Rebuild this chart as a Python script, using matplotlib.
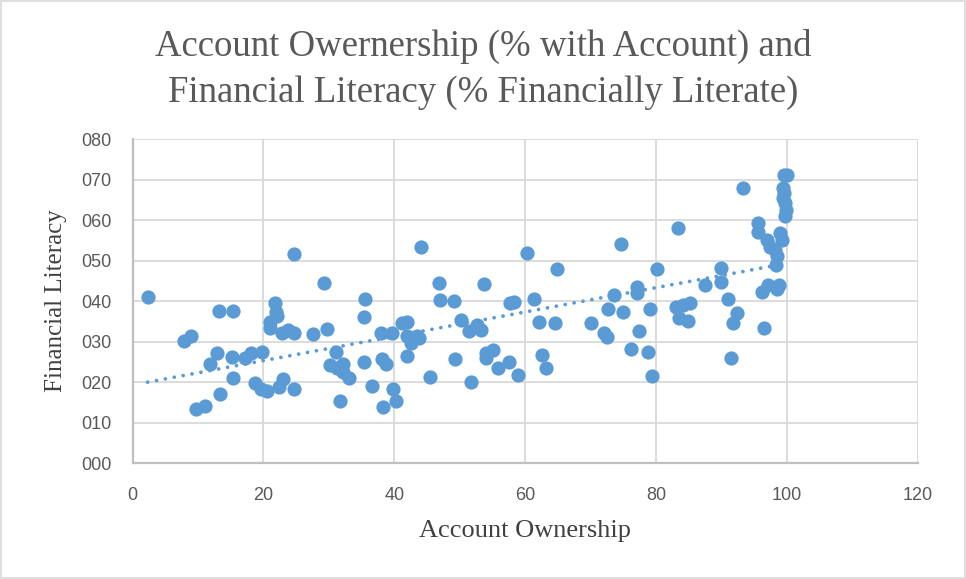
import numpy as np
import matplotlib.pyplot as plt
from matplotlib.patches import Rectangle

# Account ownership (% with account) per country
account = [2.3, 7.9, 9.0, 9.7, 11.0, 11.8, 12.9, 13.2, 13.3, 15.2,
           15.3, 15.3, 17.2, 18.1, 18.7, 19.6, 19.8, 20.5, 21.0, 21.0,
           21.8, 21.9, 22.0, 22.4, 22.8, 23.0, 23.8, 24.7, 24.7, 24.7,
           27.6, 29.3, 29.7, 30.2, 31.1, 31.2, 31.7, 32.2, 32.2, 33.1,
           35.3, 35.3, 35.5, 36.6, 38.0, 38.1, 38.3, 38.7, 39.7, 39.8,
           40.3, 41.1, 41.9, 42.0, 42.0, 42.5, 43.4, 43.7, 44.1, 45.5,
           46.8, 46.9, 49.1, 49.2, 50.2, 51.4, 51.7, 52.7, 53.2, 53.7,
           54.0, 54.0, 55.1, 55.9, 57.5, 57.6, 58.3, 58.9, 60.3, 61.3,
           62.1, 62.5, 63.1, 64.5, 64.9, 70.0, 72.0, 72.5, 72.7, 73.6,
           74.7, 75.0, 76.1, 77.0, 77.1, 77.4, 78.8, 79.1, 79.4, 80.1,
           83.1, 83.4, 83.5, 84.1, 84.9, 85.2, 87.5, 89.9, 89.9, 91.0,
           91.5, 91.7, 92.4, 93.2, 95.6, 95.6, 96.2, 96.4, 97.0, 97.1,
           97.4, 98.2, 98.3, 98.4, 98.4, 98.8, 98.9, 99.2, 99.4, 99.6,
           99.4, 99.7, 99.8, 99.7, 99.6, 100.0]
# Financial literacy (% financially literate)
literacy = [40.9, 30.2, 31.4, 13.3, 14.2, 24.4, 27.1, 37.6, 17.0, 26.1,
            37.6, 21.1, 26.0, 27.2, 19.8, 18.2, 27.4, 17.9, 34.9, 33.3,
            39.4, 37.4, 36.4, 18.8, 32.0, 20.8, 32.8, 51.5, 32.0, 18.3,
            31.9, 44.4, 33.2, 24.3, 27.4, 23.4, 15.4, 24.5, 22.5, 21.1,
            24.9, 36.1, 40.4, 19.1, 32.2, 25.8, 13.8, 24.4, 32.0, 18.2,
            15.2, 34.6, 34.7, 31.4, 26.5, 29.7, 31.4, 30.8, 53.4, 21.3,
            44.5, 40.2, 40.0, 25.7, 35.3, 32.6, 19.9, 34.2, 32.8, 44.1,
            27.1, 26.0, 27.9, 23.5, 25.0, 39.4, 39.8, 21.7, 51.9, 40.6,
            34.9, 26.7, 23.5, 34.5, 47.9, 34.5, 32.0, 31.2, 38.0, 41.5,
            54.0, 37.3, 28.1, 42.1, 43.5, 32.7, 27.3, 38.0, 21.4, 47.9,
            38.6, 58.1, 35.7, 38.9, 35.1, 39.4, 43.9, 48.1, 44.8, 40.5,
            25.9, 34.5, 37.0, 67.9, 59.2, 57.1, 42.3, 33.3, 55.1, 44.0,
            53.3, 52.6, 48.9, 51.2, 42.9, 43.9, 56.9, 55.1, 67.8, 66.6,
            65.4, 64.1, 62.5, 61.1, 71.0, 71.1]

x_ticks = [0, 20, 40, 60, 80, 100, 120]
y_ticks = [0, 10, 20, 30, 40, 50, 60, 70, 80]

blue = '#5B9BD5'
grey_text = '#595959'

fig = plt.figure(figsize=(9.66, 5.79), dpi=100)
fig.subplots_adjust(left=0.1372, right=0.9503, top=0.7599, bottom=0.2003)
ax = fig.add_subplot(111)

# chart border
fig.patches.append(Rectangle((0.001, 0.001), 0.998, 0.997, transform=fig.transFigure,
                             fill=False, edgecolor='#D9D9D9', linewidth=1.2))

ax.scatter(account, literacy, s=105, color=blue, zorder=3, linewidths=0)

# linear trend line over the data range
xs = np.array(account)
coef = np.polyfit(xs, literacy, 1)
xt = np.array([xs.min(), xs.max()])
ax.plot(xt, np.polyval(coef, xt), linestyle=(0, (0.01, 2.4)), color=blue,
        linewidth=2.7, dash_capstyle='round', solid_capstyle='round', zorder=2)

ax.set_xlim(0, 120)
ax.set_ylim(0, 80)
ax.set_xticks(x_ticks)
ax.set_yticks(y_ticks)
ax.set_yticklabels(['%03d' % v for v in y_ticks])
ax.grid(True, color='#D9D9D9', linewidth=1.3, zorder=0)
ax.set_axisbelow(True)
for side in ['top', 'right']:
    ax.spines[side].set_visible(False)
for side in ['left', 'bottom']:
    ax.spines[side].set_color('#BFBFBF')
    ax.spines[side].set_linewidth(1.6)
ax.tick_params(length=0, labelsize=13, labelcolor=grey_text)
ax.tick_params(axis='y', pad=15)
ax.tick_params(axis='x', pad=17)
for lab in ax.get_xticklabels() + ax.get_yticklabels():
    lab.set_family('Liberation Sans')

serif = 'Liberation Serif'
ax.set_xlabel('Account Ownership', family=serif, fontsize=19, color='#404040', labelpad=12)
ax.set_ylabel('Financial Literacy', family=serif, fontsize=18, color='#404040', labelpad=10)
fig.text(0.5, 0.88, 'Account Owernership (% with Account) and\nFinancial Literacy (% Financially Literate)',
         ha='center', va='center', family=serif, fontsize=26.5, color=grey_text, linespacing=1.42)

fig.savefig('out.png', dpi=100)
